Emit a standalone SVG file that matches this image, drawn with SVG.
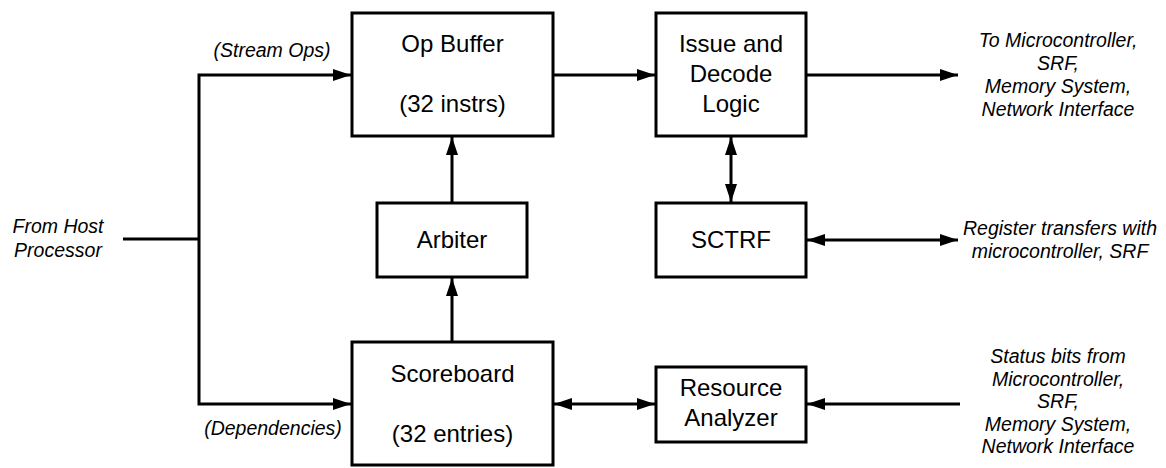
<svg xmlns="http://www.w3.org/2000/svg" width="1166" height="468" viewBox="0 0 1166 468">
<style>
.box{fill:#fff;stroke:#000;stroke-width:3}
.lbl{font-family:"Liberation Sans",Arial,sans-serif;font-size:24px;fill:#000;text-anchor:middle}
.it{font-family:"Liberation Sans",Arial,sans-serif;font-size:19.5px;font-style:italic;fill:#000;text-anchor:middle}
.c{fill:none;stroke:#000;stroke-width:3;stroke-linejoin:miter}
.a{marker-end:url(#ah)}
.b{marker-start:url(#ah);marker-end:url(#ah)}
</style>
<defs>
<marker id="ah" markerWidth="18" markerHeight="12" refX="18" refY="6" orient="auto-start-reverse" markerUnits="userSpaceOnUse"><path d="M0,0 L18,6 L0,12 z" fill="#000"/></marker>
</defs>
<rect width="1166" height="468" fill="#fff"/>
<g id="connectors">
<path class="c" d="M123,239 H199"/>
<path class="c a" d="M199,239 V75 H351"/>
<path class="c a" d="M199,239 V404 H351"/>
<path class="c a" d="M553,75 H655"/>
<path class="c a" d="M806,75 H958"/>
<path class="c a" d="M452,203 V137"/>
<path class="c a" d="M452,342 V278"/>
<path class="c b" d="M731,137 V202"/>
<path class="c b" d="M807,240 H958"/>
<path class="c b" d="M554,404 H655"/>
<path class="c a" d="M960,404 H807"/>
</g>
<g id="opbuffer">
<rect class="box" x="352" y="13" width="201" height="123"/>
<text class="lbl" x="452.5" y="52">Op Buffer</text>
<text class="lbl" x="452.5" y="112">(32 instrs)</text>
</g>
<g id="issue">
<rect class="box" x="656" y="13" width="150" height="123"/>
<text class="lbl" x="731" y="52">Issue and</text>
<text class="lbl" x="731" y="82">Decode</text>
<text class="lbl" x="731" y="112">Logic</text>
</g>
<g id="arbiter">
<rect class="box" x="377" y="203" width="150" height="74"/>
<text class="lbl" x="452" y="248">Arbiter</text>
</g>
<g id="sctrf">
<rect class="box" x="656" y="203" width="150" height="74"/>
<text class="lbl" x="731" y="248">SCTRF</text>
</g>
<g id="scoreboard">
<rect class="box" x="352" y="342" width="201" height="123"/>
<text class="lbl" x="452.5" y="382">Scoreboard</text>
<text class="lbl" x="452.5" y="442">(32 entries)</text>
</g>
<g id="resource">
<rect class="box" x="656" y="367" width="150" height="75"/>
<text class="lbl" x="731" y="396">Resource</text>
<text class="lbl" x="731" y="426">Analyzer</text>
</g>
<g id="labels">
<text class="it" x="272" y="57">(Stream Ops)</text>
<text class="it" x="273" y="435">(Dependencies)</text>
<text class="it" x="58" y="233">From Host</text>
<text class="it" x="58" y="257">Processor</text>
<text class="it" x="1058" y="47">To Microcontroller,</text>
<text class="it" x="1058" y="70">SRF,</text>
<text class="it" x="1058" y="93">Memory System,</text>
<text class="it" x="1058" y="116">Network Interface</text>
<text class="it" x="1060" y="235">Register transfers with</text>
<text class="it" x="1060" y="258">microcontroller, SRF</text>
<text class="it" x="1058" y="363">Status bits from</text>
<text class="it" x="1058" y="385.5">Microcontroller,</text>
<text class="it" x="1058" y="408">SRF,</text>
<text class="it" x="1058" y="430.5">Memory System,</text>
<text class="it" x="1058" y="453">Network Interface</text>
</g>
</svg>
